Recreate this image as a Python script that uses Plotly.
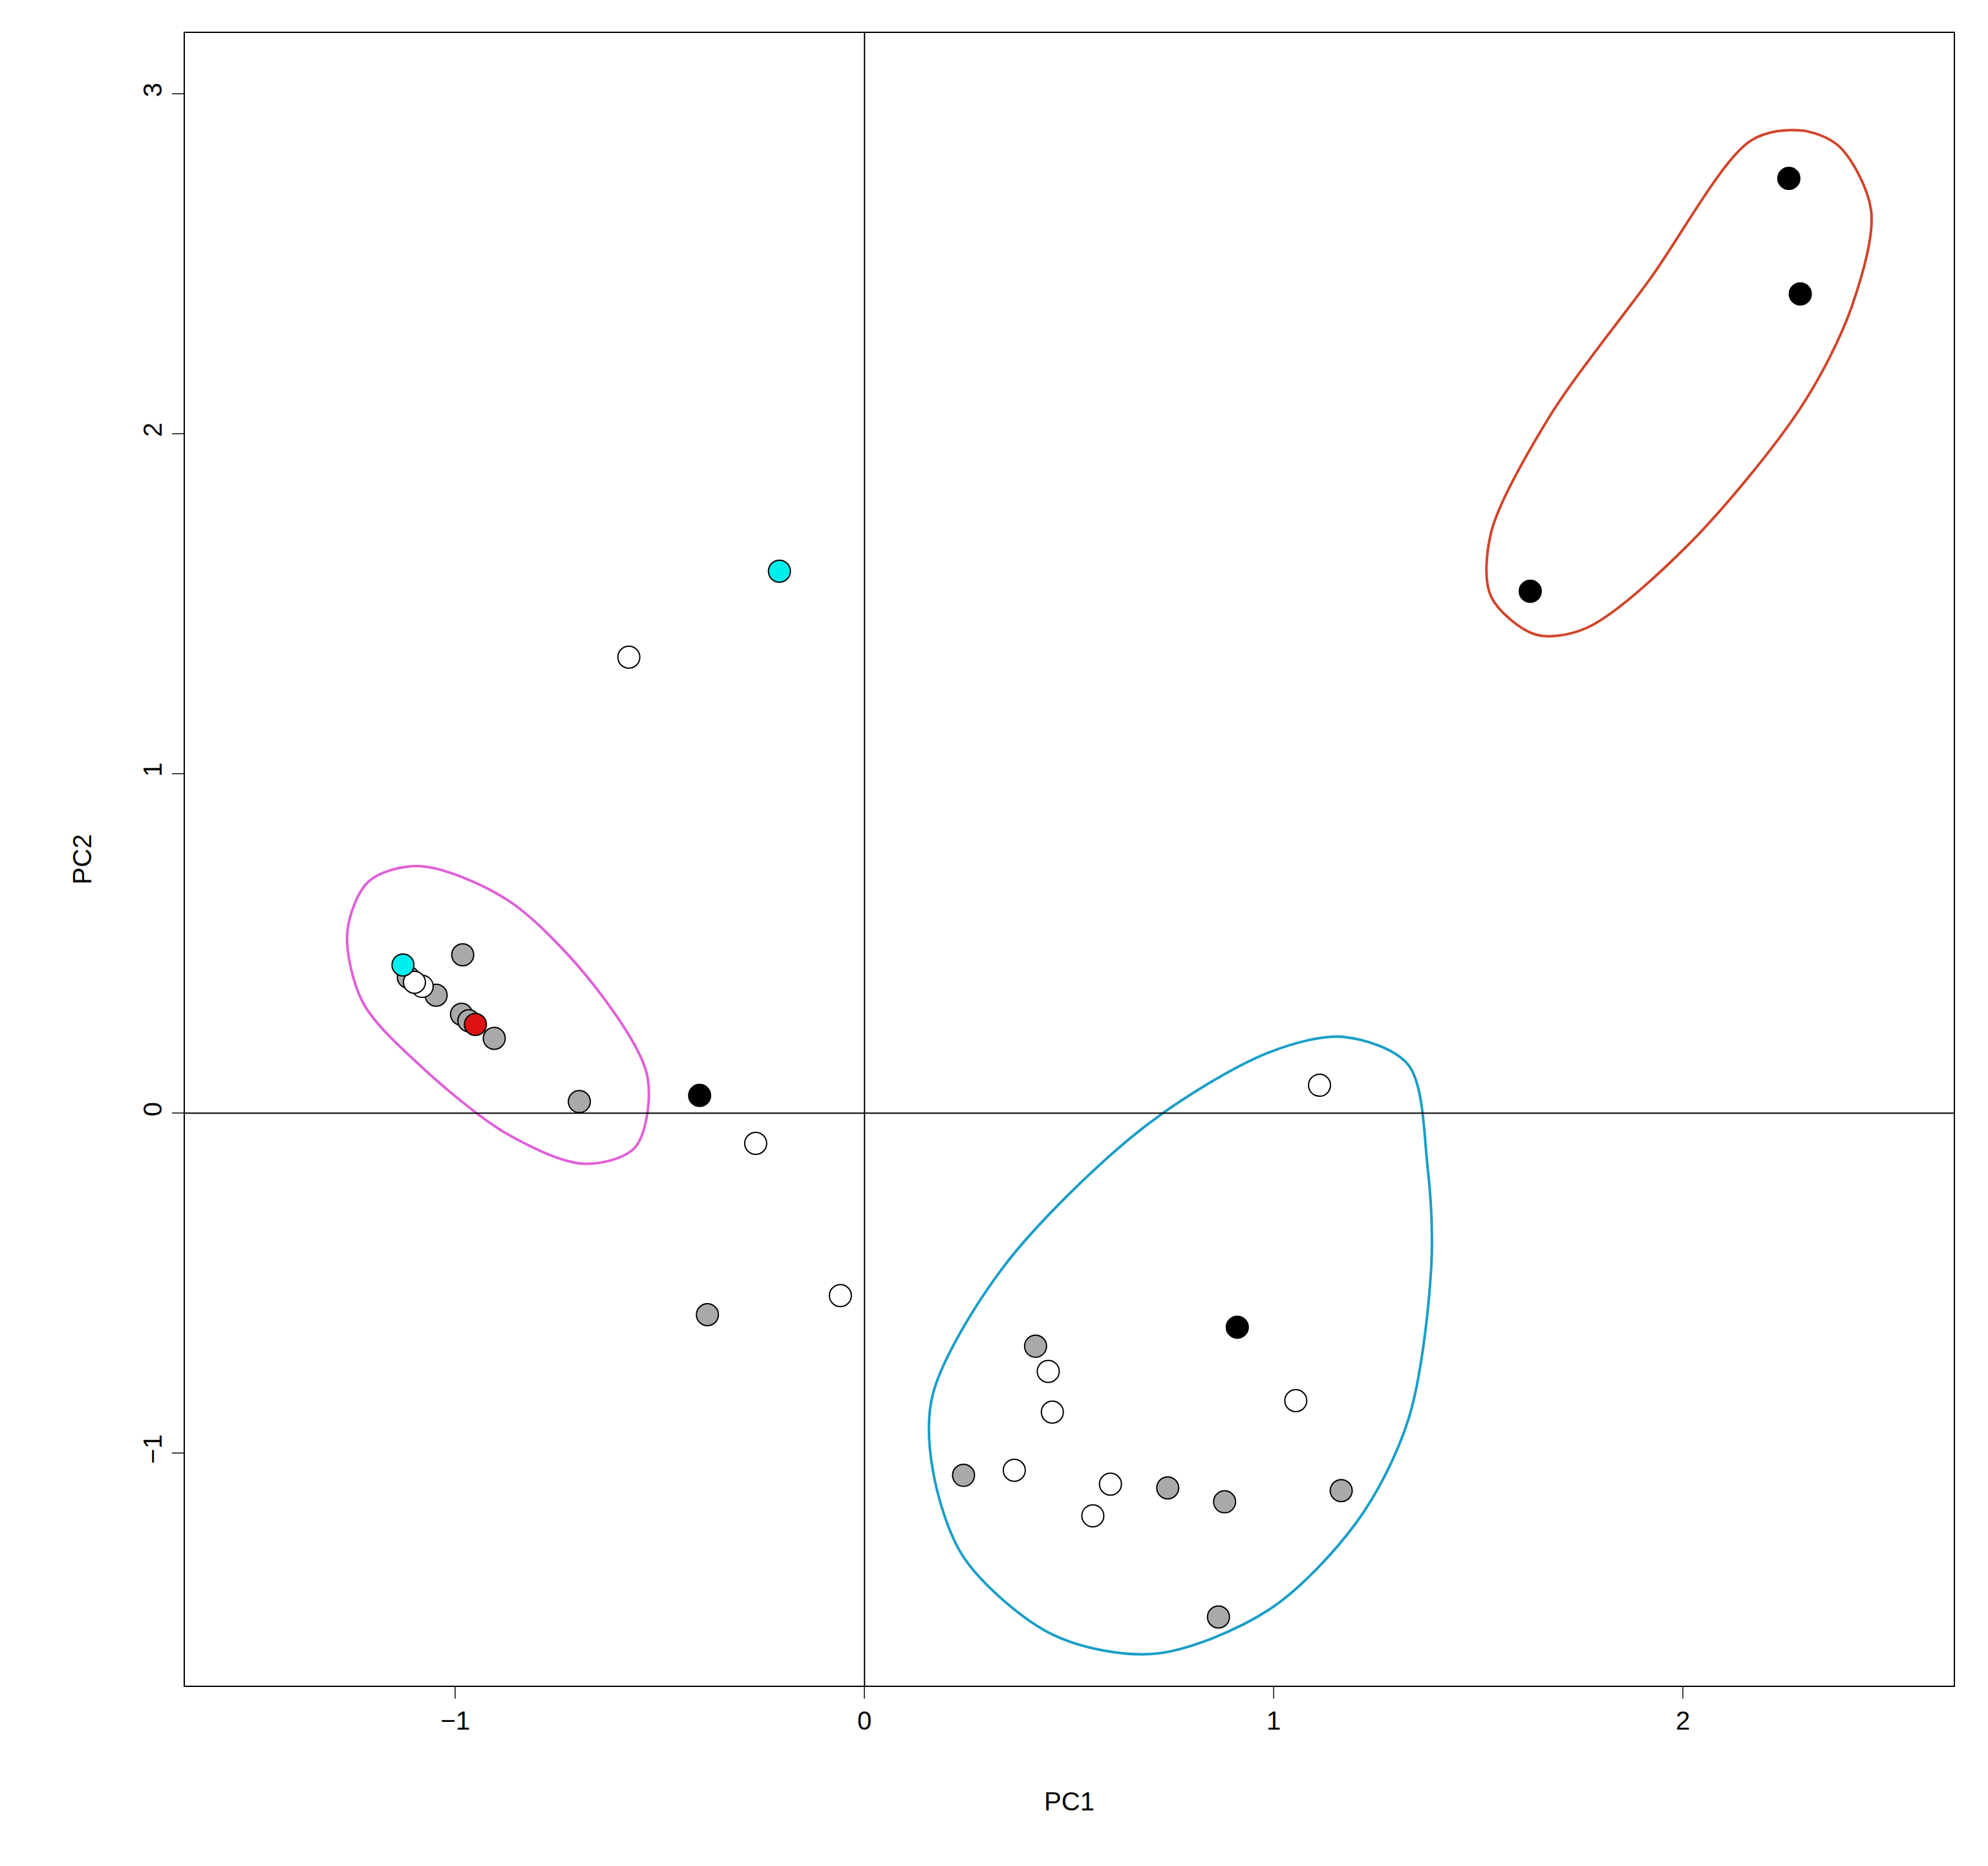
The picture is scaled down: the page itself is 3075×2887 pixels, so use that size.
import plotly.graph_objects as go

# point scores (PC1, PC2) by fill colour
black_x = [2.259, 2.287, 1.627, -0.403, 0.911]
black_y = [2.751, 2.411, 1.536, 0.052, -0.630]
cyan_x = [-0.208, -1.128]
cyan_y = [1.595, 0.436]
red_x = [-0.951]
red_y = [0.261]
white_x = [-0.576, -0.266, -0.059, 1.112, 0.449, 0.459, 1.054, 0.366, 0.601, 0.558, -1.081, -1.100]
white_y = [1.342, -0.089, -0.537, 0.082, -0.760, -0.880, -0.846, -1.051, -1.092, -1.185, 0.373, 0.385]
gray_x = [-0.982, -1.047, -0.985, -0.967, -0.905, -0.697, -0.384, 0.418, 0.242, 0.741, 0.880, 1.165, 0.865, -1.115]
gray_y = [0.466, 0.347, 0.291, 0.272, 0.220, 0.034, -0.593, -0.686, -1.066, -1.103, -1.144, -1.111, -1.483, 0.400]

# group outlines
red_hull_x = [2.166, 2.290, 2.383, 2.460, 2.414, 2.290, 2.011, 1.763, 1.639, 1.531, 1.531, 1.670, 1.918]
red_hull_y = [2.862, 2.892, 2.844, 2.657, 2.378, 2.080, 1.670, 1.427, 1.409, 1.521, 1.707, 2.042, 2.452]
mag_hull_x = [-1.264, -1.212, -1.088, -0.871, -0.654, -0.530, -0.561, -0.685, -0.871, -1.088, -1.227]
mag_hull_y = [0.533, 0.682, 0.727, 0.626, 0.365, 0.104, -0.101, -0.149, -0.063, 0.142, 0.328]
blue_hull_x = [0.167, 0.338, 0.679, 0.989, 1.174, 1.329, 1.376, 1.385, 1.329, 1.205, 0.989, 0.710, 0.462, 0.245, 0.167]
blue_hull_y = [-0.827, -0.455, -0.045, 0.179, 0.224, 0.142, -0.157, -0.455, -0.902, -1.200, -1.461, -1.591, -1.536, -1.312, -1.051]

fig = go.Figure()

for hx, hy, col in [(red_hull_x, red_hull_y, '#d0452a'),
                    (mag_hull_x, mag_hull_y, '#e060d8'),
                    (blue_hull_x, blue_hull_y, '#1a9ec8')]:
    fig.add_trace(go.Scatter(x=hx + hx[:1], y=hy + hy[:1], mode='lines',
                             line=dict(color=col, width=4, shape='spline', smoothing=0.9),
                             hoverinfo='skip'))

fig.add_hline(y=0, line=dict(color='black', width=2))
fig.add_vline(x=0, line=dict(color='black', width=2))

for px, py, col in [(gray_x, gray_y, '#a9a9a9'), (white_x, white_y, 'white'),
                    (black_x, black_y, 'black'), (cyan_x, cyan_y, '#00eeee'),
                    (red_x, red_y, '#dd1111')]:
    fig.add_trace(go.Scatter(x=px, y=py, mode='markers',
                             marker=dict(size=34, color=col, line=dict(color='black', width=2))))

axis_common = dict(showgrid=False, zeroline=False, showline=True, mirror=True,
                   linecolor='black', linewidth=2, ticks='outside', ticklen=18,
                   tickwidth=2, tickfont=dict(size=40, color='black'))
fig.update_layout(
    width=3075, height=2887, showlegend=False,
    plot_bgcolor='white', paper_bgcolor='white',
    font=dict(family='Liberation Sans, Arial', color='black'),
    margin=dict(l=278, r=61, t=43, b=287),
    xaxis=dict(range=[-1.661, 2.662], tickvals=[-1, 0, 1, 2], ticktext=['\u22121', '0', '1', '2'],
               title=dict(text='PC1', font=dict(size=40), standoff=90), **axis_common),
    yaxis=dict(range=[-1.685, 3.179], tickvals=[-1, 0, 1, 2, 3], ticktext=['\u22121', '0', '1', '2', '3'],
               tickangle=-90, title=dict(text='PC2', font=dict(size=40), standoff=60), **axis_common),
)

fig.write_html("out.html")
